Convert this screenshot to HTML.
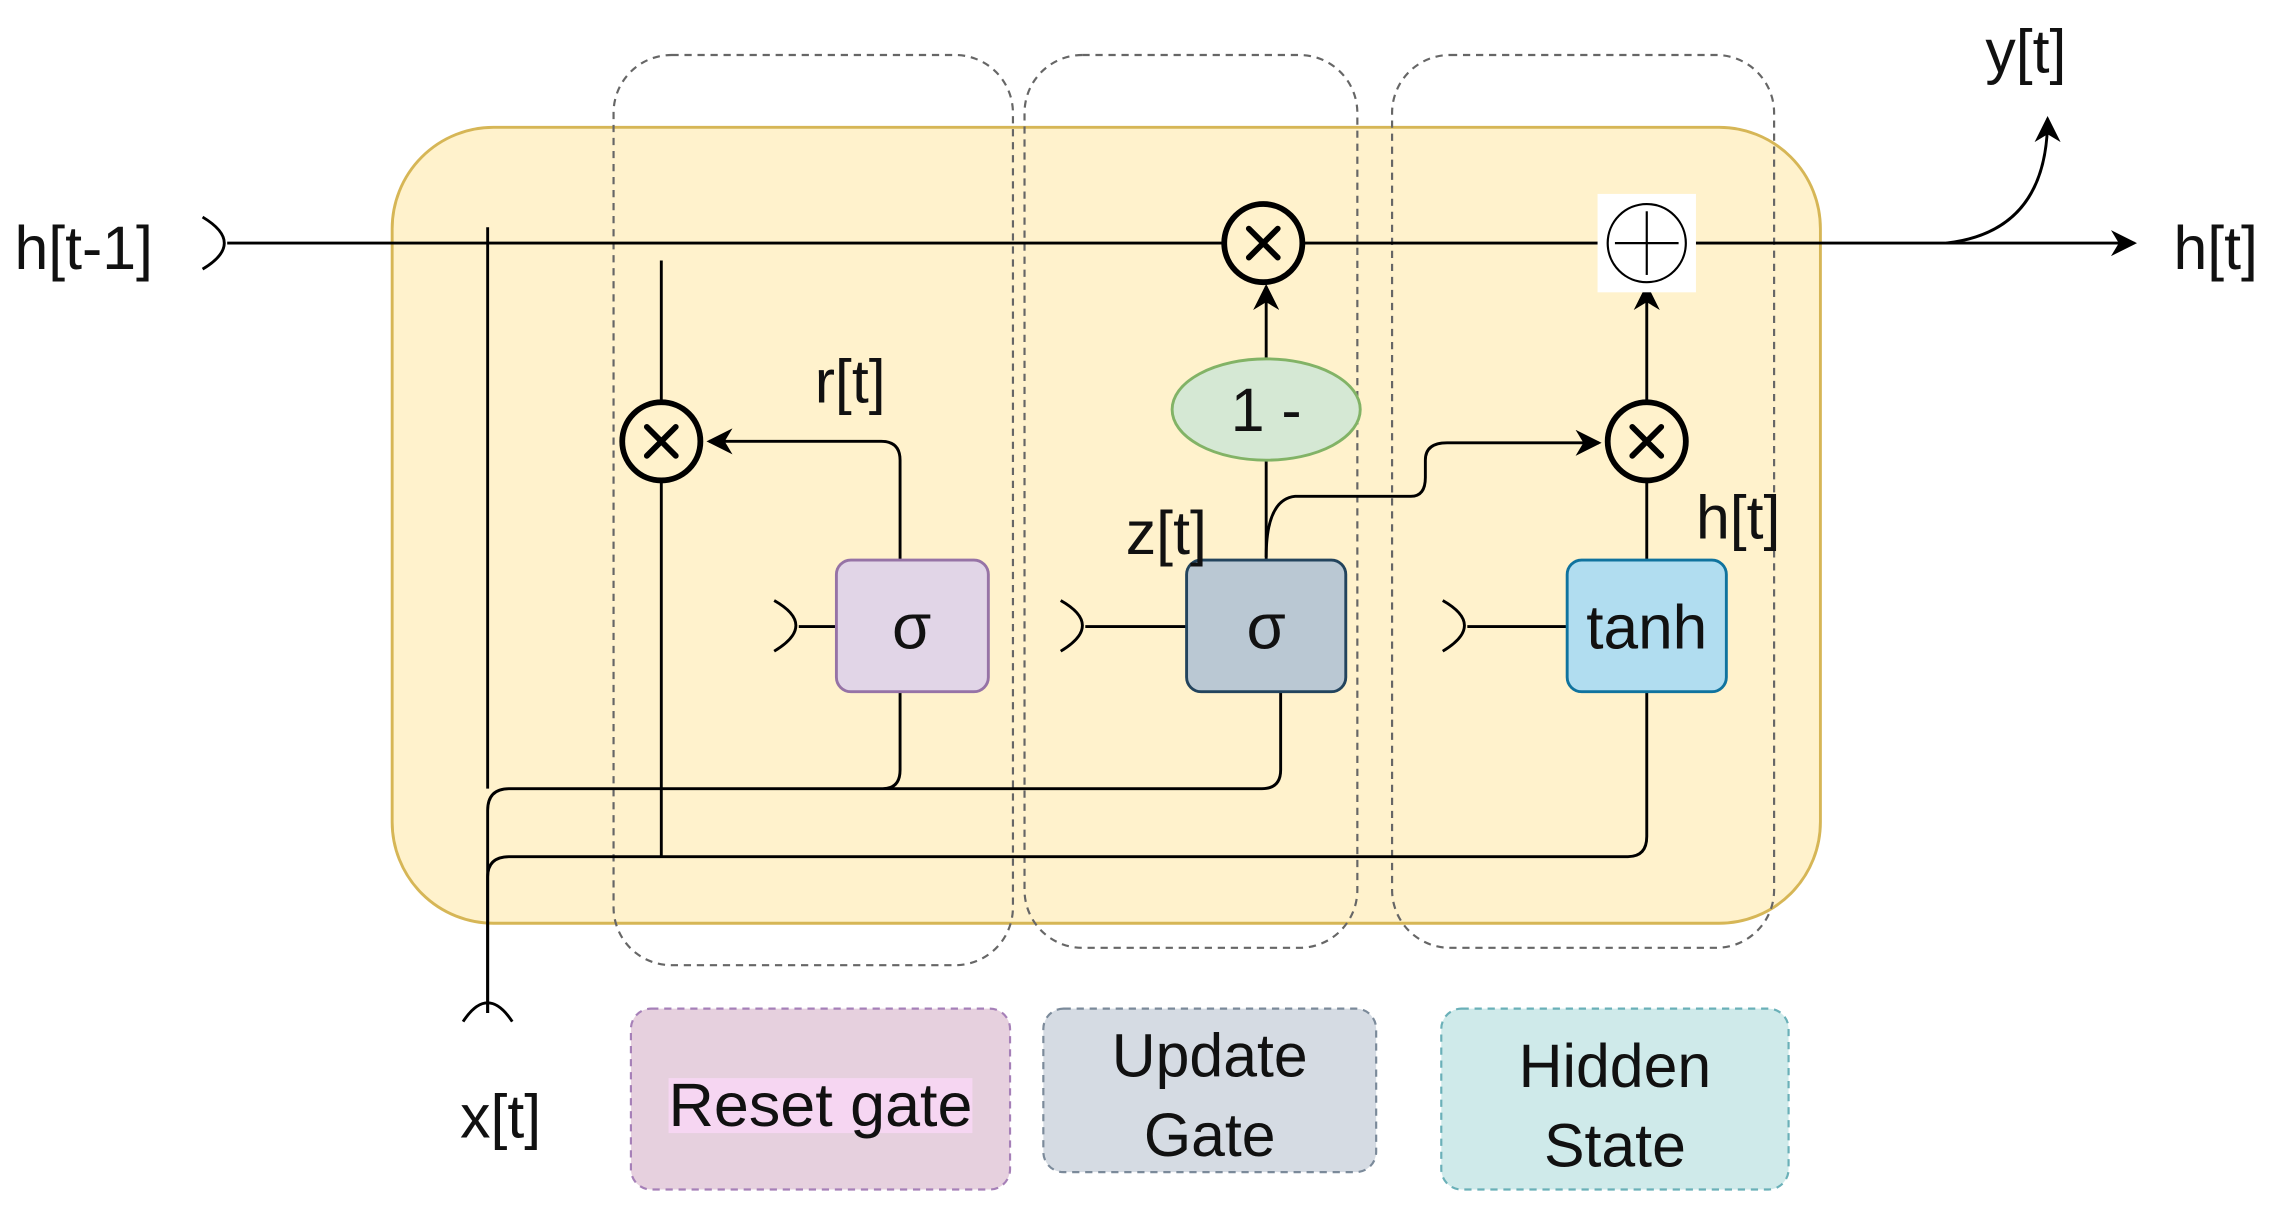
<!DOCTYPE html>
<html><head><meta charset="utf-8"><style>
html,body{margin:0;padding:0;background:#fff;}
svg{display:block;}
text{font-family:"Liberation Sans",Arial,sans-serif;fill:#111;}
</style></head><body>
<svg width="2269" height="1217" viewBox="0 0 1568 841" preserveAspectRatio="none" xmlns="http://www.w3.org/2000/svg">
<defs>
<marker id="ar2" viewBox="0 0 10 10" refX="9" refY="5" markerWidth="18" markerHeight="18" orient="auto" markerUnits="userSpaceOnUse">
<path d="M0,0 L10,5 L0,10 L3,5 z" fill="#000"/></marker>
</defs>
<rect x="271" y="88" width="987" height="550" rx="70" fill="#fff2cc" stroke="#d6b656" stroke-width="2"/>
<g fill="none" stroke="#666" stroke-width="1.5" stroke-dasharray="5,4">
<rect x="424" y="38" width="276" height="629" rx="40"/>
<rect x="708" y="38" width="230" height="617" rx="40"/>
<rect x="962" y="38" width="264" height="617" rx="40"/>
</g>
<g fill="none" stroke="#000" stroke-width="2">
<path d="M140,150 Q170,168 140,186"/>
<line x1="157" y1="168" x2="1475" y2="168" marker-end="url(#ar2)"/>
<line x1="337" y1="157" x2="337" y2="545"/>
<line x1="457" y1="180" x2="457" y2="592"/>
<path d="M622,387 L622,318 Q622,305 609,305 L490,305" marker-end="url(#ar2)"/>
<path d="M535,415 Q565,432 535,450"/><line x1="552" y1="433" x2="578" y2="433"/>
<path d="M733,415 Q763,432 733,450"/><line x1="750" y1="433" x2="820" y2="433"/>
<path d="M997,415 Q1027,432 997,450"/><line x1="1014" y1="433" x2="1083" y2="433"/>
<line x1="875" y1="387" x2="875" y2="318"/>
<line x1="875" y1="248" x2="875" y2="198" marker-end="url(#ar2)"/>
<path d="M875,385 Q875,345 895,343 L975,343 Q985,343 985,330 L985,318 Q985,306 1000,306 L1105,306" marker-end="url(#ar2)"/>
<line x1="1138" y1="387" x2="1138" y2="332"/>
<line x1="1138" y1="278" x2="1138" y2="198" marker-end="url(#ar2)"/>
<path d="M337,700 L337,560 Q337,545 352,545 L610,545 Q622,545 622,532 L622,478 M610,545 L872,545 Q885,545 885,532 L885,478"/>
<path d="M337,700 L337,606 Q337,592 352,592 L1125,592 Q1138,592 1138,578 L1138,478"/>
<path d="M320,706 Q337,680 354,706"/>
<path d="M1345,168 Q1415,160 1415,82" marker-end="url(#ar2)"/>
</g>
<g stroke="#000" stroke-width="4" stroke-linecap="round">
<circle cx="457" cy="305" r="27" fill="#fff2cc"/>
<path d="M447,295 L467,315 M467,295 L447,315"/>
<circle cx="873" cy="168" r="27" fill="#fff2cc"/>
<path d="M863,158 L883,178 M883,158 L863,178"/>
<circle cx="1138" cy="305" r="27" fill="#fff2cc"/>
<path d="M1128,295 L1148,315 M1148,295 L1128,315"/>
</g>
<rect x="1104" y="134" width="68" height="68" fill="#fff"/>
<circle cx="1138" cy="168" r="27" fill="#fff" stroke="#000" stroke-width="1.5"/>
<line x1="1116" y1="168" x2="1160" y2="168" stroke="#000" stroke-width="1.5"/>
<line x1="1138" y1="146" x2="1138" y2="190" stroke="#000" stroke-width="1.5"/>
<ellipse cx="875" cy="283" rx="65" ry="35" fill="#d5e8d4" stroke="#82b366" stroke-width="2"/>
<text x="875" y="298" font-size="42" text-anchor="middle">1 -</text>
<rect x="578" y="387" width="105" height="91" rx="10" fill="#e1d5e7" stroke="#9673a6" stroke-width="2"/>
<text x="630" y="448" font-size="44" text-anchor="middle">σ</text>
<rect x="820" y="387" width="110" height="91" rx="10" fill="#bac8d3" stroke="#23445d" stroke-width="2"/>
<text x="875" y="448" font-size="44" text-anchor="middle">σ</text>
<rect x="1083" y="387" width="110" height="91" rx="10" fill="#b1ddf0" stroke="#10739e" stroke-width="2"/>
<text x="1138" y="448" font-size="43" text-anchor="middle">tanh</text>
<text x="10" y="186" font-size="42">h[t-1]</text>
<text x="1502" y="186" font-size="42">h[t]</text>
<text x="1372" y="50" font-size="42">y[t]</text>
<text x="563" y="278" font-size="42">r[t]</text>
<text x="778" y="383" font-size="42">z[t]</text>
<text x="1172" y="372" font-size="42">h[t]</text>
<text x="318" y="786" font-size="42">x[t]</text>
<g stroke-width="1.5" stroke-dasharray="5,4">
<rect x="436" y="697" width="262" height="125" rx="14" fill="#e6d0de" stroke="#a680b8"/>
<rect x="721" y="697" width="230" height="113" rx="14" fill="#d5dbe3" stroke="#7b8a9a"/>
<rect x="996" y="697" width="240" height="125" rx="14" fill="#cfeaea" stroke="#6ab0b8"/>
</g>
<rect x="462" y="745" width="210" height="38" fill="#f6d6f2"/>
<text x="567" y="778" font-size="42" text-anchor="middle" textLength="210" lengthAdjust="spacingAndGlyphs">Reset gate</text>
<text x="836" y="744" font-size="42" text-anchor="middle">Update</text>
<text x="836" y="799" font-size="42" text-anchor="middle">Gate</text>
<text x="1116" y="751" font-size="42" text-anchor="middle">Hidden</text>
<text x="1116" y="806" font-size="42" text-anchor="middle">State</text>
</svg>
</body></html>
